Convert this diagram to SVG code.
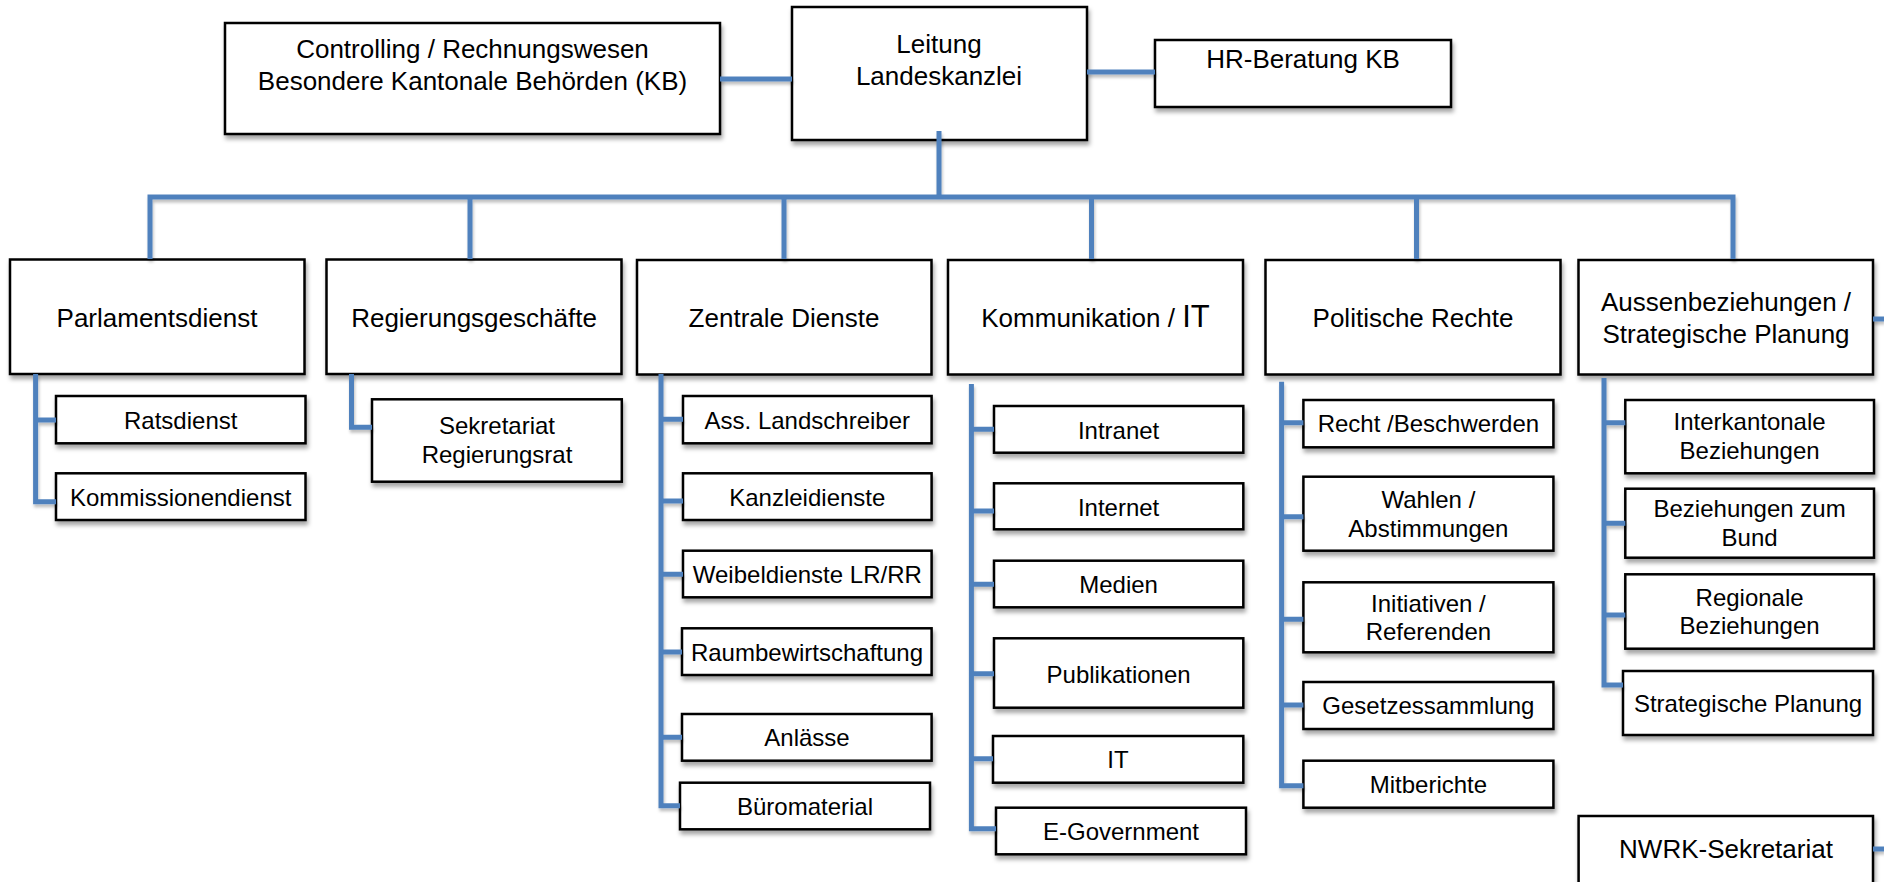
<svg xmlns="http://www.w3.org/2000/svg" width="1884" height="882" viewBox="0 0 1884 882">
<style>
.box{fill:#fff;stroke:#000;stroke-width:2.5;filter:url(#sh)}
.t{font-family:"Liberation Sans",Arial,sans-serif;fill:#000;text-anchor:middle}
.m{font-size:26px}
.s{font-size:24px}
.c{stroke:#4F81BD;stroke-width:5;fill:none;stroke-linejoin:miter;filter:url(#sh2)}
</style>
<defs>
<filter id="sh" x="-10%" y="-10%" width="130%" height="140%">
<feDropShadow dx="1.5" dy="4" stdDeviation="2" flood-color="#000" flood-opacity="0.35"/>
</filter>
<filter id="sh2" x="-10%" y="-10%" width="130%" height="140%">
<feDropShadow dx="1" dy="3" stdDeviation="1.5" flood-color="#000" flood-opacity="0.25"/>
</filter>
</defs>
<rect width="1884" height="882" fill="#fff"/>

<g id="controlling"><rect class="box" x="225" y="23" width="495" height="111"/><text class="t m" x="472.5" y="58">Controlling / Rechnungswesen</text><text class="t m" x="472.5" y="90">Besondere Kantonale Behörden (KB)</text></g>
<g id="leitung"><rect class="box" x="792" y="7" width="295" height="133"/><text class="t m" x="939" y="53">Leitung</text><text class="t m" x="939" y="85">Landeskanzlei</text></g>
<g id="hr"><rect class="box" x="1155" y="40" width="296" height="67"/><text class="t m" x="1303" y="68">HR-Beratung KB</text></g>

<g id="parlamentsdienst"><rect class="box" x="10" y="259.5" width="294.5" height="114.5"/><text class="t m" x="157" y="327">Parlamentsdienst</text></g>
<g id="regierungsgeschaefte"><rect class="box" x="326.5" y="259.5" width="295" height="114.5"/><text class="t m" x="474" y="327">Regierungsgeschäfte</text></g>
<g id="zentrale"><rect class="box" x="637" y="260" width="294.5" height="114.5"/><text class="t m" x="784" y="327">Zentrale Dienste</text></g>
<g id="kommunikation"><rect class="box" x="948" y="260" width="295" height="114.5"/><text class="t m" x="1095.5" y="327">Kommunikation / <tspan font-size="31">IT</tspan></text></g>
<g id="politische"><rect class="box" x="1265.5" y="260" width="295" height="114.5"/><text class="t m" x="1413" y="327">Politische Rechte</text></g>
<g id="aussen"><rect class="box" x="1578.5" y="260" width="294.5" height="114.5"/><text class="t m" x="1726" y="311">Aussenbeziehungen /</text><text class="t m" x="1726" y="343">Strategische Planung</text></g>

<g id="ratsdienst"><rect class="box" x="56" y="396" width="249.5" height="47.3"/><text class="t s" x="180.7" y="429">Ratsdienst</text></g>
<g id="kommissionendienst"><rect class="box" x="56" y="473.3" width="249.5" height="46.7"/><text class="t s" x="180.7" y="506">Kommissionendienst</text></g>
<g id="sekretariat"><rect class="box" x="372" y="399.3" width="249.8" height="82.4"/><text class="t s" x="497" y="434">Sekretariat</text><text class="t s" x="497" y="463">Regierungsrat</text></g>

<g id="ass"><rect class="box" x="683" y="396" width="248.6" height="47.3"/><text class="t s" x="807.3" y="429">Ass. Landschreiber</text></g>
<g id="kanzleidienste"><rect class="box" x="683" y="473.3" width="248.6" height="46.7"/><text class="t s" x="807.3" y="506">Kanzleidienste</text></g>
<g id="weibeldienste"><rect class="box" x="683" y="550.7" width="248.6" height="46.6"/><text class="t s" x="807.3" y="583.3">Weibeldienste LR/RR</text></g>
<g id="raum"><rect class="box" x="682" y="628.3" width="249.6" height="46.7"/><text class="t s" x="807" y="661">Raumbewirtschaftung</text></g>
<g id="anlaesse"><rect class="box" x="682" y="714" width="249.6" height="46.7"/><text class="t s" x="807" y="746">Anlässe</text></g>
<g id="buero"><rect class="box" x="680" y="782.7" width="250" height="46.6"/><text class="t s" x="805" y="815">Büromaterial</text></g>

<g id="intranet"><rect class="box" x="994" y="406" width="249.3" height="46.7"/><text class="t s" x="1118.6" y="438.5">Intranet</text></g>
<g id="internet"><rect class="box" x="994" y="483.3" width="249.3" height="46"/><text class="t s" x="1118.6" y="515.7">Internet</text></g>
<g id="medien"><rect class="box" x="994" y="560.7" width="249.3" height="46.6"/><text class="t s" x="1118.6" y="592.5">Medien</text></g>
<g id="publikationen"><rect class="box" x="994" y="638.3" width="249.3" height="69.4"/><text class="t s" x="1118.6" y="682.5">Publikationen</text></g>
<g id="it"><rect class="box" x="993" y="736" width="250.3" height="46.7"/><text class="t s" x="1118" y="768">IT</text></g>
<g id="egov"><rect class="box" x="996" y="807.7" width="250" height="46.6"/><text class="t s" x="1121" y="840">E-Government</text></g>

<g id="recht"><rect class="box" x="1303.4" y="400" width="250" height="47.3"/><text class="t s" x="1428.4" y="432">Recht /Beschwerden</text></g>
<g id="wahlen"><rect class="box" x="1303.4" y="476.7" width="250" height="74"/><text class="t s" x="1428.4" y="508.3">Wahlen /</text><text class="t s" x="1428.4" y="536.7">Abstimmungen</text></g>
<g id="initiativen"><rect class="box" x="1303.4" y="582.3" width="250" height="70"/><text class="t s" x="1428.4" y="611.7">Initiativen /</text><text class="t s" x="1428.4" y="640">Referenden</text></g>
<g id="gesetz"><rect class="box" x="1303.4" y="682" width="250" height="47"/><text class="t s" x="1428.4" y="714">Gesetzessammlung</text></g>
<g id="mitberichte"><rect class="box" x="1303.4" y="760.7" width="250" height="47"/><text class="t s" x="1428.4" y="793.3">Mitberichte</text></g>

<g id="interkantonale"><rect class="box" x="1625.3" y="400" width="248.7" height="73.3"/><text class="t s" x="1749.6" y="430">Interkantonale</text><text class="t s" x="1749.6" y="459.3">Beziehungen</text></g>
<g id="bund"><rect class="box" x="1625.3" y="488.7" width="248.7" height="69"/><text class="t s" x="1749.6" y="517.3">Beziehungen zum</text><text class="t s" x="1749.6" y="546">Bund</text></g>
<g id="regionale"><rect class="box" x="1625.3" y="574.3" width="248.7" height="74.4"/><text class="t s" x="1749.6" y="606">Regionale</text><text class="t s" x="1749.6" y="634">Beziehungen</text></g>
<g id="strategische"><rect class="box" x="1623" y="671" width="250" height="64"/><text class="t s" x="1748" y="711.7">Strategische Planung</text></g>

<g id="nwrk"><rect class="box" x="1578.6" y="816" width="294.4" height="90"/><text class="t m" x="1726" y="858">NWRK-Sekretariat</text></g>

<g id="connectors" class="c">
<path d="M720,79 H792"/>
<path d="M1087,72 H1155"/>
<path d="M939,131 V197"/>
<path d="M150,259 V197 H1733 V259"/>
<path d="M470,197 V259 M784,197 V259 M1091.5,197 V259 M1416.5,197 V259"/>
<path d="M35.6,374 V501.7 H56 M35.6,420 H56"/>
<path d="M351.5,374 V427.3 H372"/>
<path d="M661,374 V805.7 H680 M661,419.3 H683 M661,501 H683 M661,574.3 H683 M661,652 H682 M661,737.3 H682"/>
<path d="M971.4,384 V828.7 H996 M971.4,429.3 H994 M971.4,511 H994 M971.4,584.3 H994 M971.4,673.7 H994 M971.4,758.7 H993"/>
<path d="M1281.6,381.7 V785.7 H1303.4 M1281.6,422.7 H1303.4 M1281.6,516.7 H1303.4 M1281.6,619.3 H1303.4 M1281.6,705 H1303.4"/>
<path d="M1604,378 V685 H1623 M1604,422.7 H1625.3 M1604,523.3 H1625.3 M1604,615 H1625.3"/>
<path d="M1873,319 H1884"/>
<path d="M1873,849 H1884"/>
</g>
</svg>
